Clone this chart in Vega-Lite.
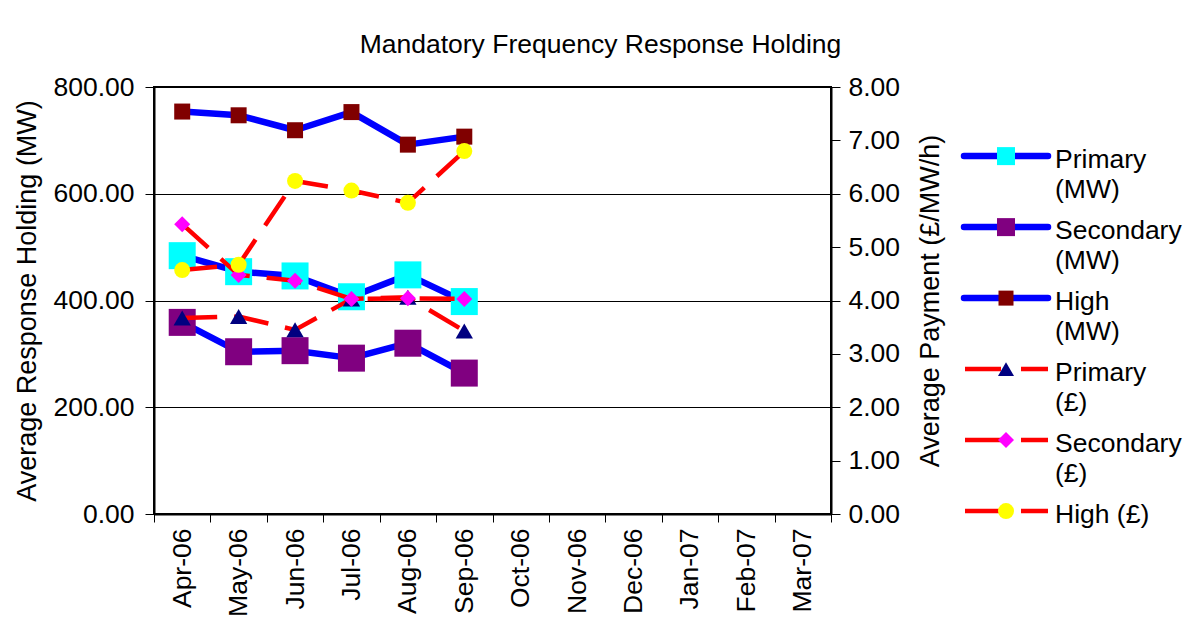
{
  "$schema": "https://vega.github.io/schema/vega-lite/v6.json",
  "background": "white",
  "padding": {"left": 12, "top": 32, "right": 0, "bottom": 0},
  "title": {"text": "Mandatory Frequency Response Holding", "fontSize": 26.5, "font": "Liberation Sans", "fontWeight": "normal", "color": "black", "anchor": "middle", "offset": 14.5},
  "config": {
    "font": "Liberation Sans",
    "axis": {"labelFont": "Liberation Sans", "titleFont": "Liberation Sans", "labelColor": "black", "titleColor": "black", "labelFontSize": 26.5, "titleFontSize": 27, "titleFontWeight": "normal", "domainColor": "black", "domainWidth": 2, "tickColor": "black", "tickWidth": 1}
  },
  "datasets": {
    "main": [
      {"month": "Apr-06", "series": "Primary (MW)", "unit": "MW", "value": 484},
      {"month": "May-06", "series": "Primary (MW)", "unit": "MW", "value": 454},
      {"month": "Jun-06", "series": "Primary (MW)", "unit": "MW", "value": 446},
      {"month": "Jul-06", "series": "Primary (MW)", "unit": "MW", "value": 407},
      {"month": "Aug-06", "series": "Primary (MW)", "unit": "MW", "value": 448},
      {"month": "Sep-06", "series": "Primary (MW)", "unit": "MW", "value": 398},
      {"month": "Apr-06", "series": "Secondary (MW)", "unit": "MW", "value": 359},
      {"month": "May-06", "series": "Secondary (MW)", "unit": "MW", "value": 304},
      {"month": "Jun-06", "series": "Secondary (MW)", "unit": "MW", "value": 306},
      {"month": "Jul-06", "series": "Secondary (MW)", "unit": "MW", "value": 292},
      {"month": "Aug-06", "series": "Secondary (MW)", "unit": "MW", "value": 320},
      {"month": "Sep-06", "series": "Secondary (MW)", "unit": "MW", "value": 264},
      {"month": "Apr-06", "series": "High (MW)", "unit": "MW", "value": 754},
      {"month": "May-06", "series": "High (MW)", "unit": "MW", "value": 747},
      {"month": "Jun-06", "series": "High (MW)", "unit": "MW", "value": 719},
      {"month": "Jul-06", "series": "High (MW)", "unit": "MW", "value": 753},
      {"month": "Aug-06", "series": "High (MW)", "unit": "MW", "value": 692},
      {"month": "Sep-06", "series": "High (MW)", "unit": "MW", "value": 707},
      {"month": "Apr-06", "series": "Primary (£)", "unit": "GBP", "value": 3.67},
      {"month": "May-06", "series": "Primary (£)", "unit": "GBP", "value": 3.70},
      {"month": "Jun-06", "series": "Primary (£)", "unit": "GBP", "value": 3.45},
      {"month": "Jul-06", "series": "Primary (£)", "unit": "GBP", "value": 4.03},
      {"month": "Aug-06", "series": "Primary (£)", "unit": "GBP", "value": 4.06},
      {"month": "Sep-06", "series": "Primary (£)", "unit": "GBP", "value": 3.43},
      {"month": "Apr-06", "series": "Secondary (£)", "unit": "GBP", "value": 5.43},
      {"month": "May-06", "series": "Secondary (£)", "unit": "GBP", "value": 4.48},
      {"month": "Jun-06", "series": "Secondary (£)", "unit": "GBP", "value": 4.37},
      {"month": "Jul-06", "series": "Secondary (£)", "unit": "GBP", "value": 4.03},
      {"month": "Aug-06", "series": "Secondary (£)", "unit": "GBP", "value": 4.04},
      {"month": "Sep-06", "series": "Secondary (£)", "unit": "GBP", "value": 4.03},
      {"month": "Apr-06", "series": "High (£)", "unit": "GBP", "value": 4.57},
      {"month": "May-06", "series": "High (£)", "unit": "GBP", "value": 4.67},
      {"month": "Jun-06", "series": "High (£)", "unit": "GBP", "value": 6.24},
      {"month": "Jul-06", "series": "High (£)", "unit": "GBP", "value": 6.06},
      {"month": "Aug-06", "series": "High (£)", "unit": "GBP", "value": 5.83},
      {"month": "Sep-06", "series": "High (£)", "unit": "GBP", "value": 6.80}
    ],
    "legend": [
      {"series": "Primary (MW)", "unit": "MW", "label": "Primary\n(MW)"},
      {"series": "Secondary (MW)", "unit": "MW", "label": "Secondary\n(MW)"},
      {"series": "High (MW)", "unit": "MW", "label": "High\n(MW)"},
      {"series": "Primary (£)", "unit": "GBP", "label": "Primary\n(£)"},
      {"series": "Secondary (£)", "unit": "GBP", "label": "Secondary\n(£)"},
      {"series": "High (£)", "unit": "GBP", "label": "High (£)"}
    ]
  },
  "spacing": 15,
  "resolve": {"scale": {"x": "independent", "y": "independent", "fill": "independent", "shape": "independent", "size": "independent"}},
  "hconcat": [
    {
      "width": 677,
      "height": 427,
      "view": {"stroke": "black", "strokeWidth": 2},
      "data": {"name": "main"},
      "encoding": {
        "x": {"field": "month", "type": "ordinal", "sort": ["Apr-06","May-06","Jun-06","Jul-06","Aug-06","Sep-06","Oct-06","Nov-06","Dec-06","Jan-07","Feb-07","Mar-07"],
          "scale": {"type": "band", "domain": ["Apr-06","May-06","Jun-06","Jul-06","Aug-06","Sep-06","Oct-06","Nov-06","Dec-06","Jan-07","Feb-07","Mar-07"], "paddingInner": 0, "paddingOuter": 0},
          "axis": {"title": null, "labelAngle": 270, "tickBand": "extent", "tickSize": 8, "labelPadding": 6, "grid": false}}
      },
      "layer": [
        {
          "transform": [{"filter": "datum.unit === 'MW'"}],
          "encoding": {
            "y": {"field": "value", "type": "quantitative", "scale": {"domain": [0, 800], "nice": false},
              "axis": {"title": "Average Response Holding (MW)", "values": [0, 200, 400, 600, 800], "format": ".2f", "grid": true, "gridColor": "black", "gridWidth": 1, "gridOpacity": 1, "tickSize": 9, "labelPadding": 11, "titlePadding": 11}}
          },
          "layer": [
            {"mark": {"type": "line", "color": "#0000FF", "strokeWidth": 6.5, "strokeJoin": "round", "strokeCap": "round"}, "encoding": {"detail": {"field": "series"}}},
            {"mark": {"type": "point", "filled": true, "opacity": 1, "strokeWidth": 0},
              "encoding": {
                "shape": {"field": "series", "scale": {"domain": ["Primary (MW)","Secondary (MW)","High (MW)"], "range": ["square","square","square"]}, "legend": null},
                "fill": {"field": "series", "scale": {"domain": ["Primary (MW)","Secondary (MW)","High (MW)"], "range": ["#00FFFF","#800080","#800000"]}, "legend": null},
                "size": {"field": "series", "type": "nominal", "scale": {"type": "ordinal", "domain": ["Primary (MW)","Secondary (MW)","High (MW)"], "range": [729, 729, 256]}, "legend": null}
              }}
          ]
        },
        {
          "transform": [{"filter": "datum.unit !== 'MW'"}],
          "encoding": {
            "y": {"field": "value", "type": "quantitative", "scale": {"domain": [0, 8], "nice": false},
              "axis": {"orient": "right", "title": "Average Payment (£/MW/h)", "titleAngle": 270, "titleBaseline": "top", "values": [0, 1, 2, 3, 4, 5, 6, 7, 8], "format": ".2f", "grid": false, "tickSize": 9, "labelPadding": 8, "titlePadding": 18}}
          },
          "layer": [
            {"mark": {"type": "line", "color": "#FF0000", "strokeWidth": 4.5, "strokeDash": [35, 17]}, "encoding": {"detail": {"field": "series"}}},
            {"mark": {"type": "point", "filled": true, "opacity": 1, "strokeWidth": 0},
              "encoding": {
                "shape": {"field": "series", "scale": {"domain": ["Primary (£)","Secondary (£)","High (£)"], "range": ["triangle-up","diamond","circle"]}, "legend": null},
                "fill": {"field": "series", "scale": {"domain": ["Primary (£)","Secondary (£)","High (£)"], "range": ["#000080","#FF00FF","#FFFF00"]}, "legend": null},
                "size": {"field": "series", "type": "nominal", "scale": {"type": "ordinal", "domain": ["Primary (£)","Secondary (£)","High (£)"], "range": [300, 256, 256]}, "legend": null}
              }}
          ]
        }
      ],
      "resolve": {"scale": {"y": "independent", "fill": "independent", "shape": "independent", "size": "independent"}}
    },
    {
      "width": 228,
      "height": 427,
      "view": {"stroke": null},
      "data": {"name": "legend"},
      "encoding": {
        "y": {"field": "series", "type": "nominal", "scale": {"type": "point", "domain": ["Primary (MW)","Secondary (MW)","High (MW)","Primary (£)","Secondary (£)","High (£)"], "padding": 0.507, "align": 0.96}, "axis": null}
      },
      "layer": [
        {"transform": [{"filter": "datum.unit === 'MW'"}],
          "mark": {"type": "rule", "color": "#0000FF", "strokeWidth": 6.5, "strokeCap": "round"},
          "encoding": {"x": {"datum": 4, "type": "quantitative", "scale": {"domain": [0, 228], "nice": false, "zero": false}, "axis": null}, "x2": {"datum": 88}}},
        {"transform": [{"filter": "datum.unit !== 'MW'"}],
          "mark": {"type": "rule", "color": "#FF0000", "strokeWidth": 4.5, "strokeDash": [36, 20]},
          "encoding": {"x": {"datum": 5, "type": "quantitative"}, "x2": {"datum": 88}}},
        {"mark": {"type": "point", "filled": true, "opacity": 1, "strokeWidth": 0},
          "encoding": {
            "x": {"datum": 46, "type": "quantitative"},
            "shape": {"field": "series", "scale": {"domain": ["Primary (MW)","Secondary (MW)","High (MW)","Primary (£)","Secondary (£)","High (£)"], "range": ["square","square","square","triangle-up","diamond","circle"]}, "legend": null},
            "fill": {"field": "series", "scale": {"domain": ["Primary (MW)","Secondary (MW)","High (MW)","Primary (£)","Secondary (£)","High (£)"], "range": ["#00FFFF","#800080","#800000","#000080","#FF00FF","#FFFF00"]}, "legend": null},
            "size": {"field": "series", "type": "nominal", "scale": {"type": "ordinal", "domain": ["Primary (MW)","Secondary (MW)","High (MW)","Primary (£)","Secondary (£)","High (£)"], "range": [324, 324, 225, 256, 256, 256]}, "legend": null}
          }},
        {"mark": {"type": "text", "align": "left", "baseline": "alphabetic", "dy": 12, "fontSize": 26.5, "font": "Liberation Sans", "color": "black", "lineBreak": "\n", "lineHeight": 30},
          "encoding": {"x": {"datum": 95, "type": "quantitative"}, "text": {"field": "label"}}}
      ]
    }
  ]
}
